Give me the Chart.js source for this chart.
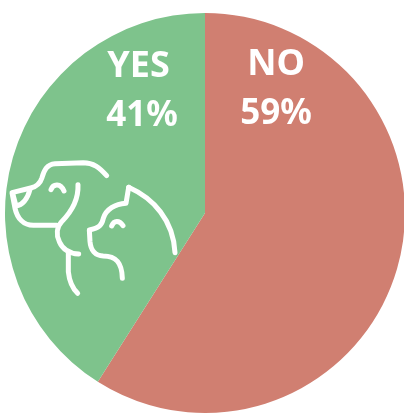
<!DOCTYPE html>
<html>
<head>
<meta charset="utf-8">
<script src="https://cdn.jsdelivr.net/npm/chart.js@4"></script>
<style>
  html, body { margin: 0; padding: 0; background: #fff; overflow: hidden; }
  canvas { display: block; }
</style>
</head>
<body>
<canvas id="pieChart" width="420" height="430"></canvas>
<script>
// pie data
const categories = ['NO', 'YES'];
const seriesValues = [59, 41];
const sliceColors = ['#d07f71', '#7ec38c'];

// white text on top of each slice
const sliceLabels = {
  id: 'sliceLabels',
  afterDraw(chart) {
    const c = chart.ctx;
    // name x, name y, percent x, percent y
    const spots = [[276, 65, 276, 114], [138.5, 67, 142, 116]];
    c.save();
    c.fillStyle = '#fff';
    c.textAlign = 'center';
    c.textBaseline = 'middle';
    categories.forEach((name, i) => {
      c.font = 'bold 36px "Noto Sans"';
      c.fillText(name, spots[i][0], spots[i][1]);
      c.font = 'bold 35px "Noto Sans"';
      c.fillText(seriesValues[i] + '%', spots[i][2], spots[i][3]);
    });
    c.restore();
  }
};

// dog and cat line icon, traced in zoomed crop coords
const petIcon = {
  id: 'petIcon',
  afterDraw(chart) {
    const c = chart.ctx;
    c.save();
    c.translate(0, 140);
    c.scale(1 / 3, 1 / 3);
    c.strokeStyle = '#fff';
    c.lineWidth = 15;
    c.lineCap = 'round';
    c.lineJoin = 'round';
    const shapes = [
      // dog head
      'M320 107 C298 82 280 68 250 68 L165 71 C140 73 132 92 126 113 C120 132 108 140 92 144 L36 158 L45 205 C52 235 70 256 100 256 L170 256',
      // dog nose
      'M38 160 L48 198 C68 195 82 178 90 148',
      // dog eye
      'M153 149 C160 130 182 130 192 153',
      // dog neck
      'M234 134 C236 180 215 215 185 245 C170 262 168 285 178 305 C188 328 205 340 236 342',
      // dog chest
      'M205 338 L205 395 C208 425 218 445 233 460',
      // cat head
      'M386 142 L378 190 C345 192 318 208 310 235 C306 255 298 264 268 270 L270 305 C272 330 285 347 310 348 C345 348 366 365 367 415',
      // cat back
      'M386 142 C460 175 520 240 525 338',
      // cat eye
      'M335 258 C342 240 358 240 369 257'
    ];
    shapes.forEach(d => c.stroke(new Path2D(d)));
    c.restore();
  }
};

const pieCtx = document.getElementById('pieChart').getContext('2d');
const pieChart = new Chart(pieCtx, {
  type: 'pie',
  data: {
    labels: categories,
    datasets: [{
      data: seriesValues,
      backgroundColor: sliceColors,
      borderWidth: 0
    }]
  },
  options: {
    responsive: false,
    animation: false,
    layout: { padding: { left: 5, top: 13, right: 15, bottom: 17 } },
    plugins: {
      legend: { display: false },
      tooltip: { enabled: false }
    }
  },
  plugins: [sliceLabels, petIcon]
});
</script>
</body>
</html>
